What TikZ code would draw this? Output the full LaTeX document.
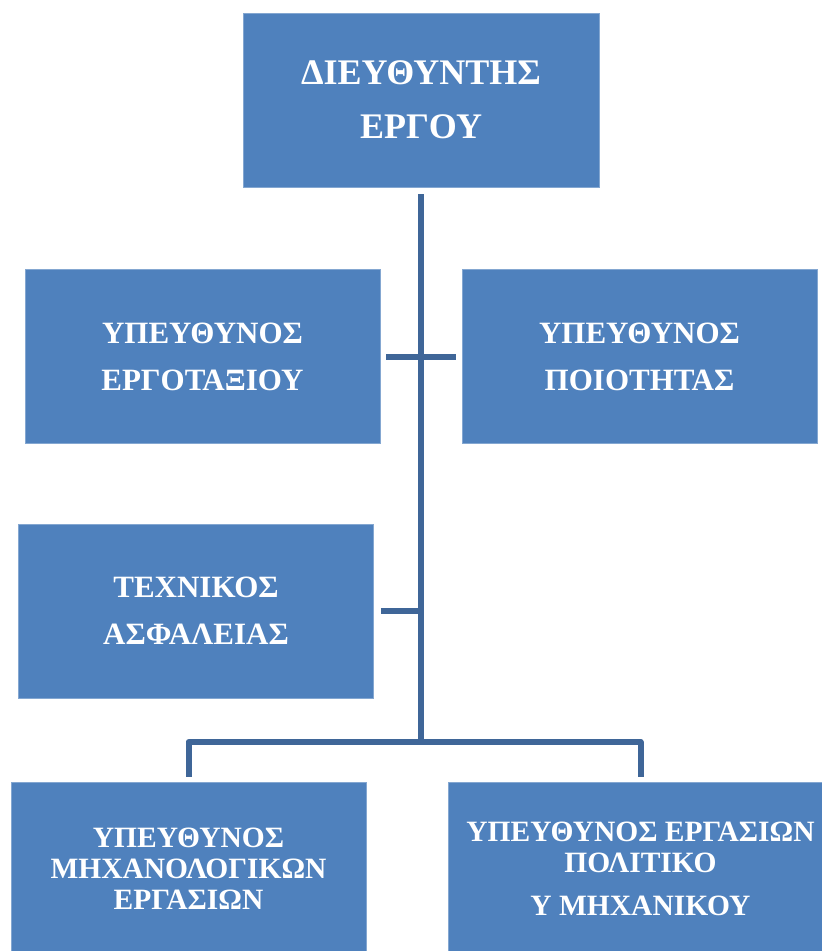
\documentclass[tikz,border=0pt]{standalone}
\usepackage{fontspec}
\setmainfont{Liberation Serif}
\definecolor{boxblue}{HTML}{4F81BD}
\definecolor{linkblue}{HTML}{3F6698}
\tikzset{
unit/.style={fill=boxblue, draw=boxblue!70!white, line width=0.6pt, text=white, align=center, inner sep=0pt, minimum width=355pt, minimum height=174pt},
link/.style={draw=linkblue, line width=6pt, line join=round},
}
\begin{document}
\begin{tikzpicture}[x=1pt,y=-1pt]
\clip (0,0) rectangle (822,951);
\node[unit, minimum width=356pt, font=\fontsize{36}{54}\selectfont\bfseries] (dir) at (421,100) {ΔΙΕΥΘΥΝΤΗΣ\\ΕΡΓΟΥ};
\node[unit, font=\fontsize{31}{47}\selectfont\bfseries] (ergot) at (202.5,356.5) {ΥΠΕΥΘΥΝΟΣ\\ΕΡΓΟΤΑΞΙΟΥ};
\node[unit, font=\fontsize{31}{47}\selectfont\bfseries] (poiot) at (639.5,356.5) {ΥΠΕΥΘΥΝΟΣ\\ΠΟΙΟΤΗΤΑΣ};
\node[unit, font=\fontsize{31}{47}\selectfont\bfseries] (asfal) at (196,611) {ΤΕΧΝΙΚΟΣ\\ΑΣΦΑΛΕΙΑΣ};
\node[unit, font=\fontsize{29.5}{31}\selectfont\bfseries] (mech) at (188.5,869) {ΥΠΕΥΘΥΝΟΣ\\ΜΗΧΑΝΟΛΟΓΙΚΩΝ\\ΕΡΓΑΣΙΩΝ};
\node[unit, minimum width=385pt, font=\fontsize{29.5}{31}\selectfont\bfseries] (polit) at (640.5,869) {ΥΠΕΥΘΥΝΟΣ ΕΡΓΑΣΙΩΝ\\ΠΟΛΙΤΙΚΟ\\[12pt]Υ ΜΗΧΑΝΙΚΟΥ};
\coordinate (bus) at (421,742);
\draw[link] ([yshift=-7pt]dir.south) -- (bus);
\draw[link] ([xshift=6pt]ergot.east) -- ([xshift=-6pt]poiot.west);
\draw[link] ([xshift=7pt]asfal.east) -- (asfal.east -| bus);
\draw[link] ([yshift=5pt]mech.north) |- (bus) -| ([yshift=5pt]polit.north);
%\draw[step=50pt, thin] (0,0) grid (822,951);
\end{tikzpicture}
\end{document}
